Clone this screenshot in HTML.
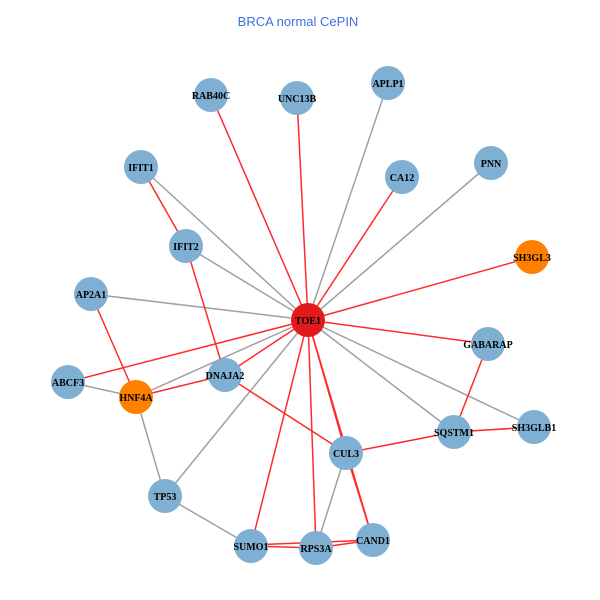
<!DOCTYPE html>
<html><head><style>body{margin:0;background:#fff}svg{display:block}</style></head><body>
<svg width="600" height="600" xmlns="http://www.w3.org/2000/svg">
<rect width="600" height="600" fill="#fff"/>
<text x="298" y="26" text-anchor="middle" font-family="Liberation Sans, sans-serif" font-size="13" fill="#3f6fe0">BRCA normal CePIN</text>
<g stroke-width="1.5">
<g stroke="#a0a0a0">
<line x1="308" y1="320" x2="388" y2="83"/>
<line x1="308" y1="320" x2="491" y2="163"/>
<line x1="308" y1="320" x2="141" y2="167"/>
<line x1="308" y1="320" x2="186" y2="246"/>
<line x1="308" y1="320" x2="91" y2="294"/>
<line x1="308" y1="320" x2="534" y2="427"/>
<line x1="308" y1="320" x2="454" y2="432"/>
<line x1="308" y1="320" x2="165" y2="496"/>
<line x1="308" y1="320" x2="136" y2="397"/>
<line x1="68" y1="382" x2="136" y2="397"/>
<line x1="136" y1="397" x2="165" y2="496"/>
<line x1="165" y1="496" x2="251" y2="546"/>
<line x1="346" y1="453" x2="316" y2="548"/>
</g>
<g stroke="#ff2a2a">
<line x1="308" y1="320" x2="211" y2="95"/>
<line x1="308" y1="320" x2="297" y2="98"/>
<line x1="308" y1="320" x2="402" y2="177"/>
<line x1="308" y1="320" x2="532" y2="257"/>
<line x1="308" y1="320" x2="488" y2="344"/>
<line x1="308" y1="320" x2="68" y2="382"/>
<line x1="308" y1="320" x2="225" y2="375"/>
<line x1="308" y1="320" x2="346" y2="453"/>
<line x1="308" y1="320" x2="251" y2="546"/>
<line x1="308" y1="320" x2="373" y2="540"/>
<line x1="308" y1="320" x2="316" y2="548"/>
<line x1="141" y1="167" x2="186" y2="246"/>
<line x1="186" y1="246" x2="225" y2="375"/>
<line x1="91" y1="294" x2="136" y2="397"/>
<line x1="136" y1="397" x2="225" y2="375"/>
<line x1="225" y1="375" x2="346" y2="453"/>
<line x1="488" y1="344" x2="454" y2="432"/>
<line x1="454" y1="432" x2="534" y2="427"/>
<line x1="346" y1="453" x2="454" y2="432"/>
<line x1="346" y1="453" x2="373" y2="540"/>
<line x1="251" y1="546" x2="316" y2="548"/>
<line x1="251" y1="545" x2="373" y2="540"/>
<line x1="316" y1="548" x2="373" y2="540"/>
</g>
</g>
<g fill="#7fb0d3">
<circle cx="211" cy="95" r="17"/><circle cx="297" cy="98" r="17"/><circle cx="388" cy="83" r="17"/>
<circle cx="141" cy="167" r="17"/><circle cx="402" cy="177" r="17"/><circle cx="491" cy="163" r="17"/>
<circle cx="186" cy="246" r="17"/><circle cx="91" cy="294" r="17"/><circle cx="488" cy="344" r="17"/>
<circle cx="225" cy="375" r="17"/><circle cx="68" cy="382" r="17"/><circle cx="534" cy="427" r="17"/>
<circle cx="454" cy="432" r="17"/><circle cx="346" cy="453" r="17"/><circle cx="165" cy="496" r="17"/>
<circle cx="251" cy="546" r="17"/><circle cx="373" cy="540" r="17"/><circle cx="316" cy="548" r="17"/>
</g>
<circle cx="532" cy="257" r="17" fill="#ff8000"/>
<circle cx="136" cy="397" r="17" fill="#ff8000"/>
<circle cx="308" cy="320" r="17" fill="#e31a1c"/>
<g font-family="Liberation Serif, serif" font-weight="bold" font-size="10" text-anchor="middle" fill="#000">
<text x="308" y="324">TOE1</text>
<text x="211" y="99">RAB40C</text><text x="297" y="102">UNC13B</text><text x="388" y="87">APLP1</text>
<text x="141" y="171">IFIT1</text><text x="402" y="181">CA12</text><text x="491" y="167">PNN</text>
<text x="186" y="250">IFIT2</text><text x="532" y="261">SH3GL3</text><text x="91" y="298">AP2A1</text>
<text x="488" y="348">GABARAP</text><text x="225" y="379">DNAJA2</text><text x="68" y="386">ABCF3</text>
<text x="136" y="401">HNF4A</text><text x="534" y="431">SH3GLB1</text><text x="454" y="436">SQSTM1</text>
<text x="346" y="457">CUL3</text><text x="165" y="500">TP53</text><text x="251" y="550">SUMO1</text>
<text x="373" y="544">CAND1</text><text x="316" y="552">RPS3A</text>
</g>
</svg>
</body></html>
